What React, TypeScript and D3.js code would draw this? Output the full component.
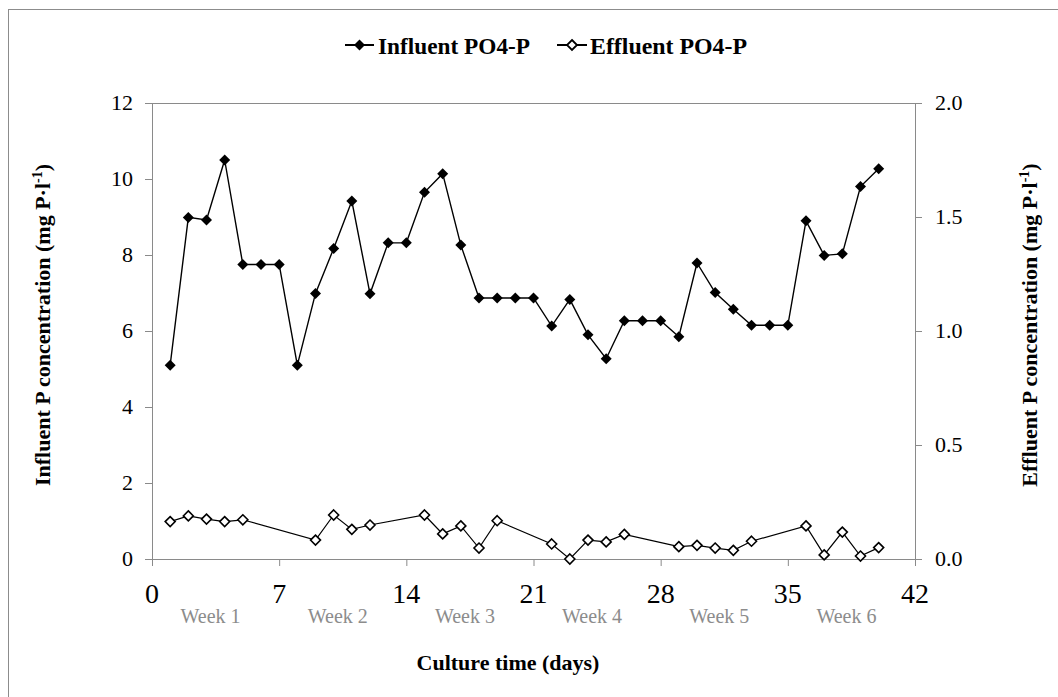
import React from "react";
import * as d3 from "d3";

// Culture days on which samples were taken
const influentDays = [1, 2, 3, 4, 5, 6, 7, 8, 9, 10, 11, 12, 13, 14, 15, 16, 17, 18, 19, 20, 21, 22, 23, 24, 25, 26, 27, 28, 29, 30, 31, 32, 33, 34, 35, 36, 37, 38, 39, 40];
// Influent PO4-P (mg P·l-1), left axis
const influentValues = [5.1, 8.99, 8.92, 10.5, 7.75, 7.75, 7.75, 5.1, 6.99, 8.17, 9.42, 6.98, 8.32, 8.32, 9.65, 10.14, 8.26, 6.87, 6.87, 6.87, 6.87, 6.13, 6.83, 5.9, 5.27, 6.27, 6.27, 6.27, 5.85, 7.79, 7.01, 6.57, 6.15, 6.15, 6.15, 8.9, 7.99, 8.03, 9.8, 10.27];

const effluentDays = [1, 2, 3, 4, 5, 9, 10, 11, 12, 15, 16, 17, 18, 19, 22, 23, 24, 25, 26, 29, 30, 31, 32, 33, 36, 37, 38, 39, 40];
// Effluent PO4-P (mg P·l-1), right axis
const effluentValues = [0.164, 0.189, 0.175, 0.164, 0.172, 0.083, 0.193, 0.13, 0.149, 0.193, 0.11, 0.145, 0.048, 0.168, 0.066, 0.0, 0.083, 0.075, 0.108, 0.054, 0.06, 0.048, 0.038, 0.078, 0.145, 0.018, 0.118, 0.013, 0.05];

const xTicks = [0, 7, 14, 21, 28, 35, 42];
const leftTicks = [0, 2, 4, 6, 8, 10, 12];
const rightTicks = [0, 0.5, 1.0, 1.5, 2.0];
const weekLabels = ["Week 1", "Week 2", "Week 3", "Week 4", "Week 5", "Week 6"];

const W = 1058;
const H = 697;
const plot = { left: 152, right: 915, top: 103, bottom: 559 };
const FONT = "'Liberation Serif', 'Times New Roman', serif";
const AXIS = "#8a8a8a";

export default function App() {
  const x = d3.scaleLinear().domain([0, 42]).range([plot.left, plot.right]);
  const yL = d3.scaleLinear().domain([0, 12]).range([plot.bottom, plot.top]);
  const yR = d3.scaleLinear().domain([0, 2]).range([plot.bottom, plot.top]);

  const infl = influentDays.map((d, i) => [d, influentValues[i]] as [number, number]);
  const effl = effluentDays.map((d, i) => [d, effluentValues[i]] as [number, number]);

  const lineL = d3.line<[number, number]>().x((d) => x(d[0])).y((d) => yL(d[1]));
  const lineR = d3.line<[number, number]>().x((d) => x(d[0])).y((d) => yR(d[1]));

  const diamond = (cx: number, cy: number, r: number) =>
    `M${cx},${cy - r}L${cx + r},${cy}L${cx},${cy + r}L${cx - r},${cy}Z`;

  const midY = (plot.top + plot.bottom) / 2;

  return (
    <svg
      width={W}
      height={H}
      style={{ position: "absolute", left: 0, top: 0, background: "#fff" }}
      fontFamily={FONT}
    >
      <rect x={0} y={0} width={W} height={H} fill="#fff" />
      {/* chart frame */}
      <rect x={8.5} y={9.5} width={W + 20} height={H + 20} fill="none" stroke="#8c8c8c" strokeWidth={1} />

      {/* legend */}
      <g>
        <line x1={345} x2={374} y1={45} y2={45} stroke="#000" strokeWidth={2} />
        <path d={diamond(359.5, 45, 5.5)} fill="#000" />
        <text x={378} y={54} fontSize={24} fontWeight="bold" textLength={152} lengthAdjust="spacingAndGlyphs">
          Influent PO4-P
        </text>
        <line x1={557} x2={587} y1={45} y2={45} stroke="#000" strokeWidth={2} />
        <path d={diamond(572, 45, 5)} fill="#fff" stroke="#000" strokeWidth={1.8} />
        <text x={590} y={54} fontSize={24} fontWeight="bold" textLength={157} lengthAdjust="spacingAndGlyphs">
          Effluent PO4-P
        </text>
      </g>

      {/* plot top border */}
      <line x1={plot.left - 7} x2={plot.right + 7} y1={plot.top + 0.5} y2={plot.top + 0.5} stroke={AXIS} />

      {/* left axis */}
      <line x1={plot.left + 0.5} x2={plot.left + 0.5} y1={plot.top} y2={plot.bottom} stroke={AXIS} />
      {leftTicks.map((t) => (
        <g key={"l" + t}>
          <line x1={plot.left - 7} x2={plot.left} y1={yL(t) + 0.5} y2={yL(t) + 0.5} stroke={AXIS} />
          <text x={plot.left - 19} y={yL(t) + 7} fontSize={22} textAnchor="end" fill="#000">
            {t}
          </text>
        </g>
      ))}

      {/* right axis */}
      <line x1={plot.right + 0.5} x2={plot.right + 0.5} y1={plot.top} y2={plot.bottom} stroke={AXIS} />
      {rightTicks.map((t) => (
        <g key={"r" + t}>
          <line x1={plot.right} x2={plot.right + 7} y1={yR(t) + 0.5} y2={yR(t) + 0.5} stroke={AXIS} />
          <text x={plot.right + 20} y={yR(t) + 7} fontSize={22} textAnchor="start" fill="#000">
            {t.toFixed(1)}
          </text>
        </g>
      ))}

      {/* bottom axis */}
      <line x1={plot.left} x2={plot.right} y1={plot.bottom + 0.5} y2={plot.bottom + 0.5} stroke={AXIS} />
      {xTicks.map((t) => (
        <g key={"x" + t}>
          <line x1={x(t) + 0.5} x2={x(t) + 0.5} y1={plot.bottom} y2={plot.bottom + 7} stroke={AXIS} />
          <text x={x(t)} y={603} fontSize={28} textAnchor="middle" fill="#000">
            {t}
          </text>
        </g>
      ))}
      {weekLabels.map((w, i) => (
        <text key={w} x={x(3.5 + 7 * i) - 5} y={623} fontSize={20} textAnchor="middle" fill="#8c8c8c">
          {w}
        </text>
      ))}

      {/* axis titles */}
      <text x={508} y={670} fontSize={22} fontWeight="bold" textAnchor="middle">
        Culture time (days)
      </text>
      <text
        transform={`translate(50,${midY - 6}) rotate(-90)`}
        fontSize={22}
        fontWeight="bold"
        textAnchor="middle"
      >
        Influent P concentration (mg P·l
        <tspan dy={-8} fontSize={14}>-1</tspan>
        <tspan dy={8}>)</tspan>
      </text>
      <text
        transform={`translate(1037,${midY - 6}) rotate(-90)`}
        fontSize={22}
        fontWeight="bold"
        textAnchor="middle"
      >
        Effluent P concentration (mg P·l
        <tspan dy={-8} fontSize={14}>-1</tspan>
        <tspan dy={8}>)</tspan>
      </text>

      {/* series */}
      <path d={lineL(infl) || ""} fill="none" stroke="#000" strokeWidth={1.4} />
      {infl.map((d, i) => (
        <path key={"i" + i} d={diamond(x(d[0]), yL(d[1]), 5.5)} fill="#000" />
      ))}
      <path d={lineR(effl) || ""} fill="none" stroke="#000" strokeWidth={1.2} />
      {effl.map((d, i) => (
        <path key={"e" + i} d={diamond(x(d[0]), yR(d[1]), 5)} fill="#fff" stroke="#000" strokeWidth={1.6} />
      ))}
    </svg>
  );
}
